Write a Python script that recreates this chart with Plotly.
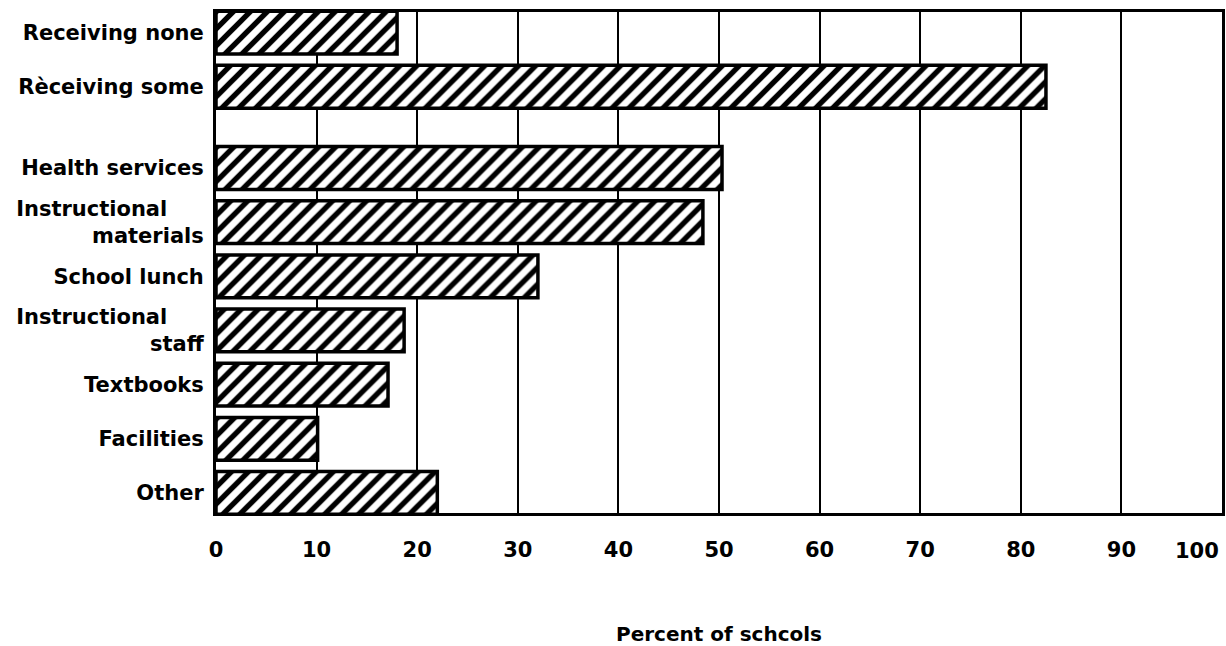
import plotly.graph_objects as go

categories = ["Receiving none", "Receiving some", "Health services",
              "Instructional materials", "School lunch", "Instructional staff",
              "Textbooks", "Facilities", "Other"]
NB = "\u00a0"
tick_labels = ["Receiving none", "Rèceiving some", "Health services",
               "Instructional" + NB * 5 + "<br>materials", "School lunch",
               "Instructional" + NB * 5 + "<br>staff",
               "Textbooks", "Facilities", "Other"]
values = [18, 82.5, 50.3, 48.4, 32, 18.7, 17.1, 10.1, 22]
x_ticks = [0, 10, 20, 30, 40, 50, 60, 70, 80, 90, 100]
x_tick_text = ["0", "10", "20", "30", "40", "50", "60", "70", "80", "90", "100"]
x_title = "Percent of schcols"

# Numeric slots: an extra half-slot gap after the first two bars
y_pos = [i + (0.5 if i >= 2 else 0) for i in range(len(categories))]

FONT = "DejaVu Sans"
W, H = 1226, 646
L, R, T, B = 216, 4, 12, 133
plot_h = H - T - B

fig = go.Figure(go.Bar(
    x=values, y=y_pos, orientation="h", width=0.79,
    marker=dict(color="white",
                line=dict(color="black", width=3.5),
                pattern=dict(shape="/", fgcolor="black", bgcolor="white",
                             size=12, solidity=0.45, fillmode="replace")),
    hovertext=categories, hoverinfo="text+x",
))

# the last tick label sits flush against the right edge (drawn as an annotation)
axis_text = x_tick_text[:-1] + [""]
tick_font = dict(family=FONT, size=21, color="black", weight="bold")

fig.update_layout(
    width=W, height=H,
    margin=dict(l=L, r=R, t=T, b=B),
    plot_bgcolor="white", paper_bgcolor="white",
    showlegend=False,
    font=dict(family=FONT, color="black"),
    xaxis=dict(range=[0, 100], tickvals=x_ticks, ticktext=axis_text,
               showgrid=True, gridcolor="black", gridwidth=1.8,
               showline=True, linecolor="black", linewidth=3, mirror=True,
               zeroline=False, ticks="", ticklabelstandoff=16,
               tickfont=tick_font, automargin=False, fixedrange=True),
    yaxis=dict(range=[8.87, -0.38], tickvals=y_pos, ticktext=tick_labels,
               showgrid=False, showline=True, linecolor="black", linewidth=3,
               mirror=True, zeroline=False, ticks="", ticklabelstandoff=5,
               ticklabeloverflow="allow",
               tickfont=tick_font, automargin=False, fixedrange=True),
    annotations=[
        dict(text="<b>" + x_title + "</b>", x=0.5,
             y=(H - B - 634) / plot_h, yanchor="middle",
             xref="paper", yref="paper", showarrow=False,
             font=dict(family=FONT, size=20, color="black")),
        dict(text="<b>" + x_tick_text[-1] + "</b>", x=x_ticks[-1], xref="x",
             xanchor="right", xshift=-1,
             y=(H - B - 551) / plot_h, yref="paper", yanchor="middle",
             showarrow=False, font=dict(family=FONT, size=21, color="black")),
    ],
)

fig.write_html("out.html",
               config={"displayModeBar": False},
               post_script="document.body.style.margin='0';"
                           "document.body.style.overflow='hidden';")
